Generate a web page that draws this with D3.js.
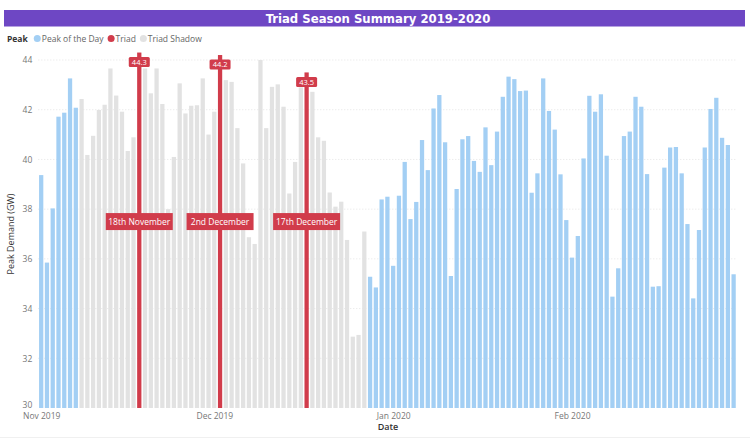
<!DOCTYPE html>
<html>
<head>
<meta charset="utf-8">
<script src="https://cdn.jsdelivr.net/npm/d3@7"></script>
<style>
  body { margin: 0; background: #fff; }
  text { font-family: "Open Sans", "Noto Sans", sans-serif; }
</style>
</head>
<body>
<div id="chart"></div>
<script>
//Data: one peak per day from 1 Nov 2019
var startDate = "2019-11-01";
var peakValues = [
    39.37, 35.85, 38.03, 41.72, 41.88, 43.26, 42.08, 42.43, 40.18, 40.95,
    41.99, 42.20, 43.66, 42.57, 41.92, 40.34, 40.89, 44.30, 43.66, 42.66,
    43.66, 42.23, 38.00, 40.10, 43.06, 41.85, 42.16, 42.18, 43.26, 41.00,
    41.92, 44.20, 43.19, 43.12, 41.26, 39.84, 36.87, 36.60, 44.00, 41.26,
    42.92, 43.02, 42.12, 38.63, 39.90, 42.90, 43.50, 42.72, 40.89, 40.75,
    38.67, 38.10, 38.30, 36.76, 32.87, 32.94, 37.10, 35.28, 34.85, 38.39,
    38.50, 35.72, 38.54, 39.90, 37.60, 38.29, 40.78, 39.57, 42.05, 42.59,
    40.69, 35.31, 38.81, 40.81, 40.94, 39.94, 39.50, 41.29, 39.77, 41.12,
    42.52, 43.33, 43.23, 42.75, 42.77, 38.66, 39.44, 43.26, 41.95, 41.20,
    39.40, 37.56, 36.05, 36.92, 40.04, 42.56, 41.92, 42.62, 40.15, 34.48,
    35.62, 40.94, 41.12, 42.52, 42.12, 39.41, 34.88, 34.90, 39.67, 40.48,
    40.50, 39.44, 37.40, 34.41, 37.16, 40.48, 42.03, 42.48, 40.87, 40.58,
    35.38
];
var triadDates = ["2019-11-18", "2019-12-02", "2019-12-17"];
var triadLabels = ["18th November", "2nd December", "17th December"];
var shadowStart = "2019-11-08";
var shadowEnd = "2019-12-27";
var yTicks = [30, 32, 34, 36, 38, 40, 42, 44];
var legendItems = ["Peak of the Day", "Triad", "Triad Shadow"];

//Colours
var colors = {
    peak: "#a3cff4",
    triad: "#d13c4b",
    shadow: "#e2e2e2",
    purple: "#6e47c4"
};

var svgWidth = 750;
var svgHeight = 446;

//Plot area
var plot = { left: 38.3, right: 736.5, top: 60, bottom: 408 };

var parseDate = d3.timeParse("%Y-%m-%d");
var start = parseDate(startDate);
var triadSet = triadDates.map(function(d) { return +parseDate(d); });
var sStart = +parseDate(shadowStart);
var sEnd = +parseDate(shadowEnd);

//Build rows from the arrays
var data = peakValues.map(function(v, i) {
    var date = d3.timeDay.offset(start, i);
    var kind = "peak";
    if (triadSet.indexOf(+date) >= 0) kind = "triad";
    else if (+date >= sStart && +date <= sEnd) kind = "shadow";
    return { date: date, value: v, kind: kind };
});

var svg = d3.select("#chart")
    .append("svg")
    .attr("width", svgWidth)
    .attr("height", svgHeight);

//Title bar
svg.append("rect")
    .attr("x", 4).attr("y", 10)
    .attr("width", 741).attr("height", 16.5)
    .attr("fill", colors.purple);
svg.append("text")
    .attr("x", 378).attr("y", 23)
    .attr("text-anchor", "middle")
    .attr("fill", "#fff")
    .style("font-family", "'DejaVu Sans Condensed', Roboto, sans-serif")
    .style("font-weight", "bold")
    .style("font-size", "13px")
    .text("Triad Season Summary 2019-2020");

//Legend - laid out left to right by text width
var legend = svg.append("g").attr("transform", "translate(7, 41.5)");
var peakLabel = legend.append("text")
    .attr("x", 0).attr("y", 0)
    .attr("fill", "#333")
    .style("font-weight", "bold")
    .style("font-size", "8.5px")
    .text("Peak");
var legendColors = [colors.peak, colors.triad, colors.shadow];
var lx = peakLabel.node().getComputedTextLength() + 6;
legendItems.forEach(function(name, i) {
    legend.append("circle")
        .attr("cx", lx + 3.5).attr("cy", -3)
        .attr("r", 3.5)
        .attr("fill", legendColors[i]);
    var t = legend.append("text")
        .attr("x", lx + 8).attr("y", 0)
        .attr("fill", "#666")
        .style("font-size", "8.5px")
        .text(name);
    lx += 8 + t.node().getComputedTextLength() + 4;
});

//Scales
var step = (plot.right - plot.left) / peakValues.length;
var xScale = d3.scaleTime()
    .domain([d3.timeHour.offset(start, -12), d3.timeHour.offset(d3.timeDay.offset(start, peakValues.length - 1), 12)])
    .range([plot.left, plot.right]);
var yScale = d3.scaleLinear()
    .domain([30, 44])
    .range([plot.bottom, plot.top]);

//Gridlines
svg.append("g")
    .selectAll("line")
    .data(yTicks.slice(1))
    .enter()
    .append("line")
    .attr("x1", plot.left).attr("x2", plot.right)
    .attr("y1", function(d) { return yScale(d); })
    .attr("y2", function(d) { return yScale(d); })
    .attr("stroke", "#e4e4e4")
    .attr("stroke-width", 1)
    .attr("stroke-dasharray", "1,2");

//Y axis
var yAxis = d3.axisLeft(yScale).tickValues(yTicks).tickSize(0).tickPadding(6);
var yAxisG = svg.append("g")
    .attr("transform", "translate(" + plot.left + ",0)")
    .call(yAxis);
yAxisG.select(".domain").remove();
yAxisG.selectAll("text")
    .attr("fill", "#777")
    .style("font-size", "8.5px");
//the bottom tick sits just above the month label, nudge it clear
yAxisG.selectAll(".tick text")
    .filter(function(d) { return d === 30; })
    .attr("dy", "-0.05em");

//X axis
var xAxis = d3.axisBottom(xScale)
    .ticks(d3.timeMonth.every(1))
    .tickFormat(d3.timeFormat("%b %Y"))
    .tickSize(0)
    .tickPadding(5);
var xAxisG = svg.append("g")
    .attr("transform", "translate(0," + plot.bottom + ")")
    .call(xAxis);
xAxisG.select(".domain").remove();
xAxisG.selectAll("text")
    .attr("fill", "#777")
    .style("font-size", "8.5px");

//Axis titles
svg.append("text")
    .attr("transform", "translate(14,234) rotate(-90)")
    .attr("text-anchor", "middle")
    .attr("fill", "#333")
    .style("font-size", "9px")
    .text("Peak Demand (GW)");
svg.append("text")
    .attr("x", 388).attr("y", 430)
    .attr("text-anchor", "middle")
    .attr("fill", "#333")
    .style("font-weight", "600")
    .style("font-size", "9px")
    .text("Date");

//Bars
var barWidth = step * 0.74;
svg.append("g")
    .selectAll("rect")
    .data(data)
    .enter()
    .append("rect")
    .attr("x", function(d) { return xScale(d.date) - barWidth / 2; })
    .attr("y", function(d) { return yScale(d.value); })
    .attr("width", barWidth)
    .attr("height", function(d) { return yScale(30) - yScale(d.value); })
    .attr("fill", function(d) { return colors[d.kind]; });

//Triad callouts
var triads = data.filter(function(d) { return d.kind === "triad"; });
var callouts = svg.append("g")
    .selectAll("g")
    .data(triads)
    .enter()
    .append("g")
    .attr("transform", function(d) { return "translate(" + xScale(d.date) + ",0)"; });

callouts.append("rect")
    .attr("x", -10.5)
    .attr("y", function(d) { return yScale(d.value) + 4.5; })
    .attr("width", 21).attr("height", 10)
    .attr("rx", 1.5)
    .attr("fill", colors.triad);
callouts.append("text")
    .attr("x", 0)
    .attr("y", function(d) { return yScale(d.value) + 12.2; })
    .attr("text-anchor", "middle")
    .attr("fill", "#fff")
    .style("font-size", "7.5px")
    .text(function(d) { return d3.format(".1f")(d.value); });

callouts.append("rect")
    .attr("x", -33.5)
    .attr("y", yScale(37.5) - 8.5)
    .attr("width", 67).attr("height", 17)
    .attr("fill", colors.triad);
callouts.append("text")
    .attr("x", 0)
    .attr("y", yScale(37.5) + 3)
    .attr("text-anchor", "middle")
    .attr("fill", "#fff")
    .style("font-size", "8.5px")
    .text(function(d, i) { return triadLabels[i]; });

//Faint frame line at the bottom
svg.append("line")
    .attr("x1", 0).attr("x2", svgWidth)
    .attr("y1", 437.5).attr("y2", 437.5)
    .attr("stroke", "#f0f0f0");
</script>
</body>
</html>
